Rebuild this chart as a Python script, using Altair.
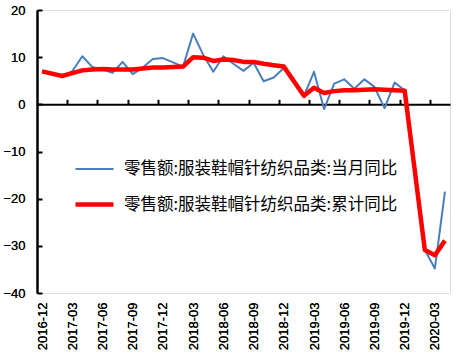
import altair as alt
import pandas as pd

months = ['2016-12', '2017-01', '2017-02', '2017-03', '2017-04', '2017-05', '2017-06',
          '2017-07', '2017-08', '2017-09', '2017-10', '2017-11', '2017-12',
          '2018-01', '2018-02', '2018-03', '2018-04', '2018-05', '2018-06',
          '2018-07', '2018-08', '2018-09', '2018-10', '2018-11', '2018-12',
          '2019-01', '2019-02', '2019-03', '2019-04', '2019-05', '2019-06',
          '2019-07', '2019-08', '2019-09', '2019-10', '2019-11', '2019-12',
          '2020-01', '2020-02', '2020-03', '2020-04']

monthly = [7.0, None, 6.0, 7.0, 10.2, 7.9, 7.4, 6.7, 9.0, 6.4, 7.8, 9.6, 9.8,
           None, 8.0, 15.0, 10.5, 6.9, 10.2, 8.6, 7.1, 8.8, 4.9, 5.7, 7.7,
           None, 1.8, 6.9, -1.0, 4.4, 5.3, 3.3, 5.3, 3.7, -0.8, 4.6, 3.0,
           None, -30.9, -34.8, -18.5]

cumulative = [7.0, None, 6.0, 6.6, 7.2, 7.4, 7.5, 7.4, 7.4, 7.4, 7.6, 7.8, 7.8,
              None, 8.0, 10.0, 9.9, 9.2, 9.5, 9.4, 9.0, 9.0, 8.6, 8.3, 8.0,
              None, 1.8, 3.5, 2.4, 2.8, 3.0, 3.0, 3.1, 3.2, 3.1, 3.0, 2.9,
              None, -30.9, -32.0, -28.9]

s_month = '零售额:服装鞋帽针纺织品类:当月同比'
s_cum = '零售额:服装鞋帽针纺织品类:累计同比'
series_names = [s_month, s_cum]

label_idx = list(range(0, 40, 3))
boundary_ticks = [i + 2.5 for i in range(0, 37, 3)]
y_ticks = [-40, -30, -20, -10, 0, 10, 20]

rows = []
for i, (m, a) in enumerate(zip(months, monthly)):
    if a is not None:
        rows.append({'idx': i, 'month': m, 'series': s_month, 'value': a})
for i, (m, b) in enumerate(zip(months, cumulative)):
    if b is not None:
        rows.append({'idx': i, 'month': m, 'series': s_cum, 'value': b})
df = pd.DataFrame(rows)

W, H = 413, 283
label_expr = "[" + ",".join("'%s'" % m for m in months) + "][datum.value]"

xscale = alt.Scale(domain=[-0.5, 40.5], nice=False, zero=False)
yscale = alt.Scale(domain=[-40, 20], nice=False, zero=False)

color_scale = alt.Scale(domain=series_names, range=['#4A7EBB', '#FF0000'])
width_scale = alt.Scale(domain=series_names, range=[2, 4.5])


def make_legend():
    return alt.Legend(
        title=None, orient='none', legendX=36, legendY=139,
        symbolType='stroke', symbolSize=1444, labelOffset=8, rowPadding=5,
        padding=0, labelFont='Noto Sans CJK SC', labelFontSize=16.5,
        labelColor='black', labelLimit=500)


x_bottom = alt.X('idx:Q', scale=xscale, axis=alt.Axis(
    orient='bottom', values=label_idx, labelExpr=label_expr, labelAngle=-90,
    ticks=False, domain=False, grid=False, labelFont='Liberation Sans',
    labelFontSize=13, labelColor='black', labelPadding=9, title=None,
    labelOverlap=False))
y_left = alt.Y('value:Q', scale=yscale, axis=alt.Axis(
    orient='left', values=y_ticks, ticks=False, domain=True, domainColor='black',
    domainWidth=2, grid=False, labelFont='Liberation Sans', labelFontSize=13,
    labelColor='black', labelPadding=12, title=None))


def line_layer(name):
    return alt.Chart(df).transform_filter(
        alt.datum.series == name
    ).mark_line(strokeJoin='round').encode(
        x=x_bottom,
        y=y_left,
        color=alt.Color('series:N', scale=color_scale, legend=make_legend()),
        strokeWidth=alt.StrokeWidth('series:N', scale=width_scale, legend=make_legend()),
        order='idx:Q',
    )


axes_layer = alt.Chart(df).mark_point(opacity=0).encode(
    x=alt.X('idx:Q', scale=xscale, axis=alt.Axis(
        orient='top', offset=-H / 3.0, values=boundary_ticks, labels=False,
        ticks=True, tickSize=5, tickWidth=2, tickColor='black',
        domain=True, domainColor='black', domainWidth=2, grid=False, title=None)),
    y=alt.Y('value:Q', scale=yscale, axis=alt.Axis(
        orient='right', offset=-W, values=y_ticks, labels=False,
        ticks=True, tickSize=5, tickWidth=2, tickColor='black',
        domain=False, grid=False, title=None)),
)

chart = alt.layer(
    line_layer(s_month), line_layer(s_cum), axes_layer
).resolve_axis(x='independent', y='independent').properties(
    width=W, height=H,
    autosize=alt.AutoSizeParams(type='none'),
    padding={'left': 37, 'top': 10, 'right': 23, 'bottom': 61},
).configure_view(stroke=None).configure(background='white')

chart.save("out.html", embed_options={"renderer": "svg", "actions": False})
